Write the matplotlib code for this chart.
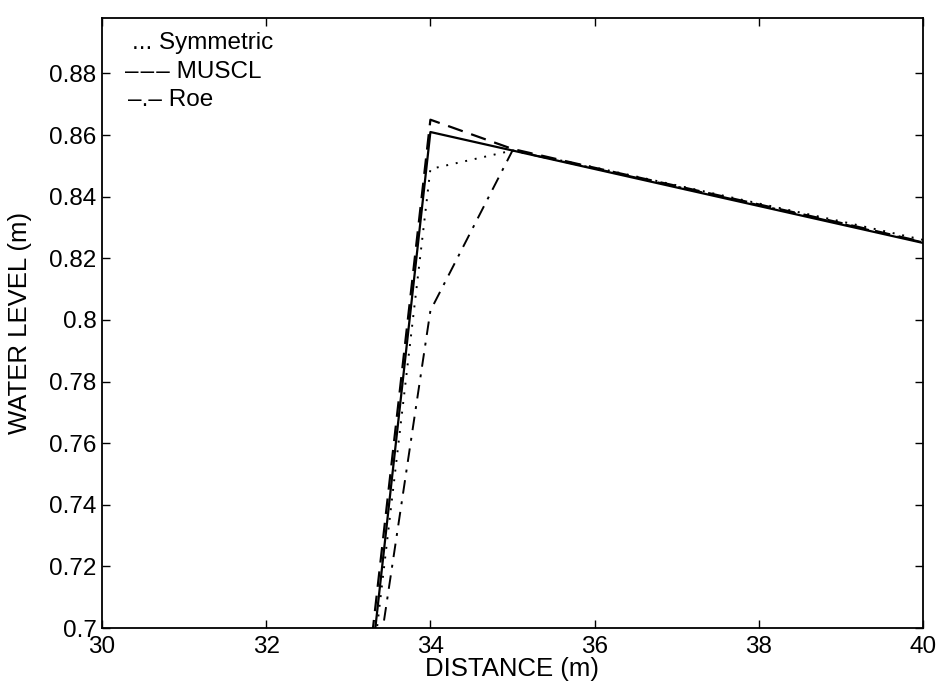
import matplotlib
matplotlib.use('Agg')
import matplotlib.pyplot as plt
from matplotlib.ticker import FuncFormatter

plt.rcParams['font.family'] = ['Liberation Sans', 'DejaVu Sans']

# grid points (m) and water levels (m) for each scheme
x = [33, 34, 35, 36, 37, 38, 39, 40]
exact = [0.621, 0.861, 0.855, 0.849, 0.843, 0.837, 0.831, 0.825]
symmetric = [0.620, 0.849, 0.855, 0.8495, 0.8437, 0.8378, 0.832, 0.826]
muscl = [0.629, 0.865, 0.8555, 0.8494, 0.8435, 0.8375, 0.8315, 0.8253]
roe = [0.625, 0.803, 0.855, 0.8492, 0.8433, 0.8373, 0.8313, 0.8252]

fs = 17.5

fig = plt.figure(figsize=(9.42, 6.83), dpi=100)
ax = fig.add_axes([0.1083, 0.0805, 0.8715, 0.8931])

ax.plot(x, exact, color='black', linestyle='-', linewidth=1.6)
ax.plot(x, symmetric, color='black', linestyle=(0, (1, 4)), linewidth=1.4)
ax.plot(x, muscl, color='black', linestyle=(0, (7, 4)), linewidth=1.6)
ax.plot(x, roe, color='black', linestyle=(0, (7, 4, 1.5, 4)), linewidth=1.4)

ax.set_xlim(30, 40)
ax.set_ylim(0.7, 0.898)
ax.set_xticks(range(30, 41, 2))
ax.set_yticks([0.7 + 0.02 * i for i in range(10)])
ax.yaxis.set_major_formatter(FuncFormatter(lambda v, p: '%g' % round(v, 2)))
ax.tick_params(direction='in', top=True, right=True, length=6, labelsize=fs, width=1, pad=4)
ax.tick_params(axis='x', pad=6)
for s in ax.spines.values():
    s.set_linewidth(1.3)

ax.set_xlabel('DISTANCE (m)', fontsize=18.5, labelpad=-1)
ax.set_ylabel('WATER LEVEL (m)', fontsize=18.5, labelpad=12)

ax.text(0.037, 0.959, '... Symmetric', transform=ax.transAxes, fontsize=fs, va='center')
ax.text(0.028, 0.911, '\u2013\u200a\u2013\u200a\u2013 MUSCL', transform=ax.transAxes, fontsize=fs, va='center')
ax.text(0.032, 0.866, '\u2013.\u2013 Roe', transform=ax.transAxes, fontsize=fs, va='center')

fig.savefig('out.png', dpi=100)
